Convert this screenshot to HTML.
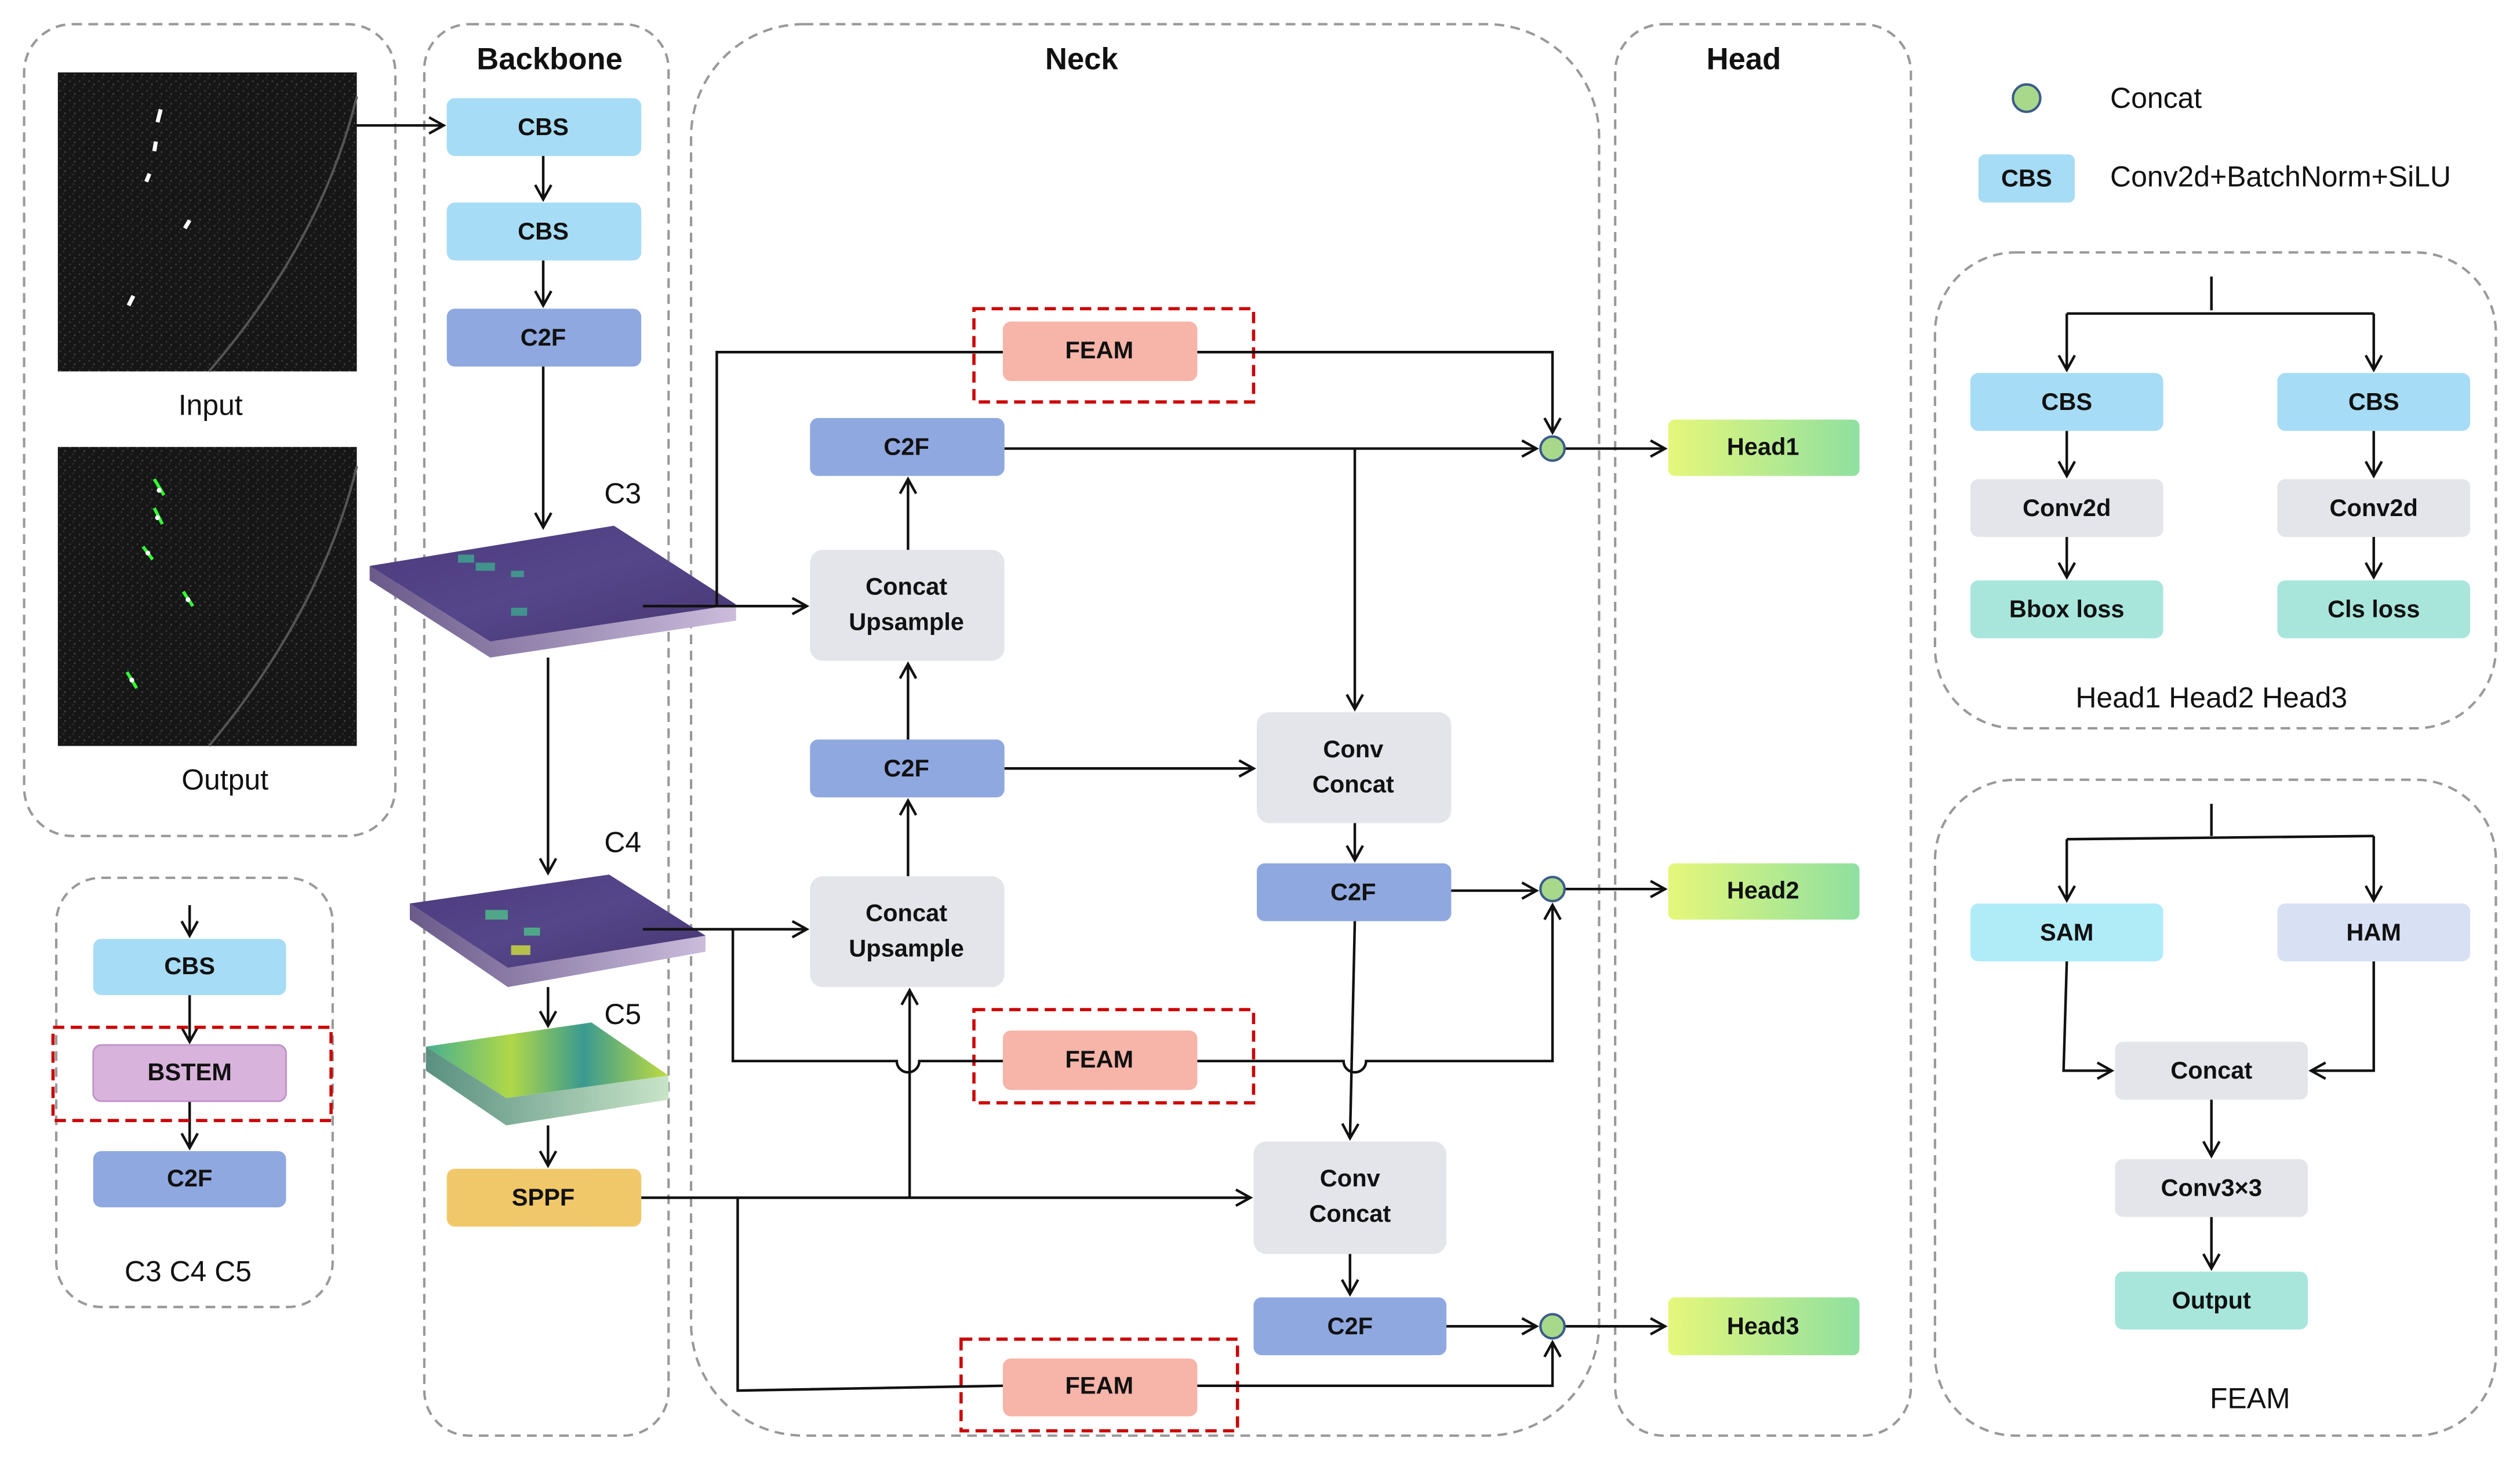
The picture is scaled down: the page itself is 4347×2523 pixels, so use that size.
<!DOCTYPE html>
<html><head><meta charset="utf-8"><style>
html,body{margin:0;padding:0;background:#fff;}
svg{display:block;}
text{font-family:"Liberation Sans",sans-serif;}
.b{font-weight:bold;font-size:15px;text-anchor:middle;dominant-baseline:middle;fill:#111;}
.t{font-weight:bold;font-size:19px;text-anchor:middle;fill:#111;}
.n{font-size:18px;fill:#111;}
.p{fill:none;stroke:#999;stroke-width:1.5;stroke-dasharray:6,4;}
.r{fill:none;stroke:#c00;stroke-width:2;stroke-dasharray:7,4;}
.l{fill:none;stroke:#111;stroke-width:1.6;}
</style></head><body>
<svg width="4347" height="2523" viewBox="0 0 1568 910" xmlns="http://www.w3.org/2000/svg">
<defs>
<marker id="a" markerWidth="12" markerHeight="12" refX="10" refY="6" orient="auto" markerUnits="userSpaceOnUse"><path d="M1,1 L10,6 L1,11" fill="none" stroke="#111" stroke-width="1.6"/></marker>
<linearGradient id="hg" x1="0" x2="1"><stop offset="0" stop-color="#e6f77a"/><stop offset="1" stop-color="#8fe0a0"/></linearGradient>
<linearGradient id="fm" x1="0" y1="0" x2="1" y2="1"><stop offset="0" stop-color="#4c3a7c"/><stop offset="0.5" stop-color="#55468a"/><stop offset="1" stop-color="#463672"/></linearGradient>
<linearGradient id="fs" x1="0" x2="1"><stop offset="0" stop-color="#6a5a8a"/><stop offset="1" stop-color="#cbbcdc"/></linearGradient>
<linearGradient id="fm5" x1="0" y1="0" x2="1" y2="0"><stop offset="0" stop-color="#48b090"/><stop offset="0.35" stop-color="#b0d848"/><stop offset="0.65" stop-color="#3a9a90"/><stop offset="1" stop-color="#c0dc40"/></linearGradient>
<linearGradient id="fs5" x1="0" x2="1"><stop offset="0" stop-color="#5a9080"/><stop offset="1" stop-color="#c8e4c8"/></linearGradient>
<pattern id="nz" width="6" height="6" patternUnits="userSpaceOnUse"><rect width="6" height="6" fill="#161616"/><rect x="1" y="2" width="1" height="1" fill="#3a3a3a"/><rect x="4" y="4" width="1" height="1" fill="#444"/><rect x="3" y="0" width="1" height="1" fill="#2e2e2e"/></pattern>
</defs>
<!-- panels -->
<rect class="p" x="15" y="15" width="231" height="505" rx="30"/>
<rect class="p" x="35" y="546" width="172" height="267" rx="28"/>
<rect class="p" x="264" y="15" width="152" height="878" rx="28"/>
<rect class="p" x="430" y="15" width="565" height="878" rx="70"/>
<rect class="p" x="1005" y="15" width="184" height="878" rx="30"/>
<rect class="p" x="1204" y="157" width="349" height="296" rx="50"/>
<rect class="p" x="1204" y="485" width="349" height="408" rx="50"/>
<text class="t" x="342" y="43">Backbone</text>
<text class="t" x="673" y="43">Neck</text>
<text class="t" x="1085" y="43">Head</text>
<!-- images -->
<rect x="36" y="45" width="186" height="186" fill="url(#nz)"/>
<rect x="36" y="278" width="186" height="186" fill="url(#nz)"/>
<path d="M222,60 Q200,150 130,231 M222,290 Q200,380 130,464" stroke="#555" stroke-width="1.5" fill="none"/>
<g stroke="#fff" stroke-width="2.5"><path d="M100,68 l-2,8 M97,88 l-1,6 M93,108 l-2,5 M118,137 l-3,5 M83,184 l-3,6"/></g>
<g stroke="#3f3" stroke-width="2"><path d="M96,298 l6,10 M96,316 l5,10 M89,340 l6,8 M114,368 l6,9 M79,418 l6,10"/></g>
<g fill="#fff"><circle cx="99" cy="305" r="1.5"/><circle cx="98" cy="322" r="1.5"/><circle cx="92" cy="344" r="1.5"/><circle cx="117" cy="373" r="1.5"/><circle cx="82" cy="423" r="1.5"/></g>
<text class="n" x="131" y="258" text-anchor="middle">Input</text>
<text class="n" x="140" y="491" text-anchor="middle">Output</text>
<!-- backbone boxes -->
<g>
<rect x="278" y="61" width="121" height="36" rx="5" fill="#a6dcf5"/><text class="b" x="338" y="80">CBS</text>
<rect x="278" y="126" width="121" height="36" rx="5" fill="#a6dcf5"/><text class="b" x="338" y="145">CBS</text>
<rect x="278" y="192" width="121" height="36" rx="5" fill="#8fa8e0"/><text class="b" x="338" y="211">C2F</text>
<rect x="278" y="727" width="121" height="36" rx="5" fill="#f0c86a"/><text class="b" x="338" y="746">SPPF</text>
</g>
<!-- feature maps -->
<polygon points="230,352 305,399 458,376 458,386 305,409 230,361" fill="url(#fs)"/>
<polygon points="230,352 382,327 458,376 305,399" fill="url(#fm)"/>
<g fill="#3fa890" opacity="0.8"><rect x="285" y="345" width="10" height="5"/><rect x="296" y="350" width="12" height="5"/><rect x="318" y="355" width="8" height="4"/><rect x="318" y="378" width="10" height="5"/></g>
<polygon points="255,562 316,602 439,582 439,592 316,614 255,572" fill="url(#fs)"/>
<polygon points="255,562 379,544 439,582 316,602" fill="url(#fm)"/>
<g fill="#4fb88a" opacity="0.85"><rect x="302" y="566" width="14" height="6"/><rect x="326" y="577" width="10" height="5"/><rect x="318" y="588" width="12" height="6" fill="#c8d840"/></g>
<polygon points="265,651 315,683 416,669 416,684 315,700 265,666" fill="url(#fs5)"/>
<polygon points="265,651 368,636 416,669 315,683" fill="url(#fm5)"/>
<text class="n" x="376" y="313">C3</text>
<text class="n" x="376" y="530">C4</text>
<text class="n" x="376" y="637">C5</text>
<!-- neck boxes -->
<rect class="r" x="606" y="192" width="174" height="58"/>
<rect x="624" y="200" width="121" height="37" rx="5" fill="#f7b4a8"/><text class="b" x="684" y="219">FEAM</text>
<rect class="r" x="606" y="628" width="174" height="58"/>
<rect x="624" y="641" width="121" height="37" rx="5" fill="#f7b4a8"/><text class="b" x="684" y="660">FEAM</text>
<rect class="r" x="598" y="833" width="172" height="57"/>
<rect x="624" y="845" width="121" height="36" rx="5" fill="#f7b4a8"/><text class="b" x="684" y="863">FEAM</text>
<rect x="504" y="260" width="121" height="36" rx="5" fill="#8fa8e0"/><text class="b" x="564" y="279">C2F</text>
<rect x="504" y="342" width="121" height="69" rx="8" fill="#e3e5ea"/><text class="b" x="564" y="366">Concat</text><text class="b" x="564" y="388">Upsample</text>
<rect x="504" y="460" width="121" height="36" rx="5" fill="#8fa8e0"/><text class="b" x="564" y="479">C2F</text>
<rect x="504" y="545" width="121" height="69" rx="8" fill="#e3e5ea"/><text class="b" x="564" y="569">Concat</text><text class="b" x="564" y="591">Upsample</text>
<rect x="782" y="443" width="121" height="69" rx="8" fill="#e3e5ea"/><text class="b" x="842" y="467">Conv</text><text class="b" x="842" y="489">Concat</text>
<rect x="782" y="537" width="121" height="36" rx="5" fill="#8fa8e0"/><text class="b" x="842" y="556">C2F</text>
<rect x="780" y="710" width="120" height="70" rx="8" fill="#e3e5ea"/><text class="b" x="840" y="734">Conv</text><text class="b" x="840" y="756">Concat</text>
<rect x="780" y="807" width="120" height="36" rx="5" fill="#8fa8e0"/><text class="b" x="840" y="826">C2F</text>
<!-- heads -->
<rect x="1038" y="261" width="119" height="35" rx="4" fill="url(#hg)"/><text class="b" x="1097" y="279">Head1</text>
<rect x="1038" y="537" width="119" height="35" rx="4" fill="url(#hg)"/><text class="b" x="1097" y="555">Head2</text>
<rect x="1038" y="807" width="119" height="36" rx="4" fill="url(#hg)"/><text class="b" x="1097" y="826">Head3</text>
<!-- connectors -->
<g class="l">
<path d="M222,78 H276" marker-end="url(#a)"/>
<path d="M338,97 V124" marker-end="url(#a)"/>
<path d="M338,162 V190" marker-end="url(#a)"/>
<path d="M338,228 V328" marker-end="url(#a)"/>
<path d="M400,377 H502" marker-end="url(#a)"/>
<path d="M446,377 V219 H624"/>
<path d="M745,219 H966 V269" marker-end="url(#a)"/>
<path d="M565,342 V298" marker-end="url(#a)"/>
<path d="M625,279 H956" marker-end="url(#a)"/>
<path d="M843,279 V441" marker-end="url(#a)"/>
<path d="M974,279 H1036" marker-end="url(#a)"/>
<path d="M341,409 V543" marker-end="url(#a)"/>
<path d="M565,460 V413" marker-end="url(#a)"/>
<path d="M565,545 V498" marker-end="url(#a)"/>
<path d="M625,478 H780" marker-end="url(#a)"/>
<path d="M843,512 V535" marker-end="url(#a)"/>
<path d="M903,554 H956" marker-end="url(#a)"/>
<path d="M974,553 H1036" marker-end="url(#a)"/>
<path d="M400,578 H502" marker-end="url(#a)"/>
<path d="M341,614 V638" marker-end="url(#a)"/>
<path d="M341,700 V725" marker-end="url(#a)"/>
<path d="M456,578 V660 H558 a7,7 0 0 0 14,0 H624"/>
<path d="M745,660 H836 a7,7 0 0 0 14,0 H966 V563" marker-end="url(#a)"/>
<path d="M843,573 L840,708" marker-end="url(#a)"/>
<path d="M399,745 H778" marker-end="url(#a)"/>
<path d="M566,745 V616" marker-end="url(#a)"/>
<path d="M459,745 V865 L624,862"/>
<path d="M745,862 H966 V835" marker-end="url(#a)"/>
<path d="M840,780 V805" marker-end="url(#a)"/>
<path d="M900,825 H956" marker-end="url(#a)"/>
<path d="M974,825 H1036" marker-end="url(#a)"/>
</g>
<g fill="#a8d88a" stroke="#3b5c8a" stroke-width="1.5">
<circle cx="966" cy="279" r="7.5"/><circle cx="966" cy="553" r="7.5"/><circle cx="966" cy="825" r="7.5"/>
<circle cx="1261" cy="61" r="8.5"/>
</g>
<!-- legend -->
<text class="n" x="1313" y="67">Concat</text>
<rect x="1231" y="96" width="60" height="30" rx="4" fill="#a6dcf5"/><text class="b" x="1261" y="112">CBS</text>
<text class="n" x="1313" y="116">Conv2d+BatchNorm+SiLU</text>
<!-- head detail -->
<g class="l">
<path d="M1376,172 V193"/><path d="M1286,195 H1477"/>
<path d="M1286,195 V230" marker-end="url(#a)"/><path d="M1477,195 V230" marker-end="url(#a)"/>
<path d="M1286,268 V296" marker-end="url(#a)"/><path d="M1477,268 V296" marker-end="url(#a)"/>
<path d="M1286,334 V359" marker-end="url(#a)"/><path d="M1477,334 V359" marker-end="url(#a)"/>
</g>
<rect x="1226" y="232" width="120" height="36" rx="5" fill="#a6dcf5"/><text class="b" x="1286" y="251">CBS</text>
<rect x="1417" y="232" width="120" height="36" rx="5" fill="#a6dcf5"/><text class="b" x="1477" y="251">CBS</text>
<rect x="1226" y="298" width="120" height="36" rx="5" fill="#e3e5ea"/><text class="b" x="1286" y="317">Conv2d</text>
<rect x="1417" y="298" width="120" height="36" rx="5" fill="#e3e5ea"/><text class="b" x="1477" y="317">Conv2d</text>
<rect x="1226" y="361" width="120" height="36" rx="5" fill="#a8e6dc"/><text class="b" x="1286" y="380">Bbox loss</text>
<rect x="1417" y="361" width="120" height="36" rx="5" fill="#a8e6dc"/><text class="b" x="1477" y="380">Cls loss</text>
<text class="n" x="1376" y="440" text-anchor="middle">Head1 Head2 Head3</text>
<!-- FEAM detail -->
<g class="l">
<path d="M1376,500 V520"/><path d="M1286,522 L1477,520"/>
<path d="M1286,522 V560" marker-end="url(#a)"/><path d="M1477,520 V560" marker-end="url(#a)"/>
<path d="M1286,598 L1284,666 H1314" marker-end="url(#a)"/>
<path d="M1477,598 V666 H1438" marker-end="url(#a)"/>
<path d="M1376,684 V719" marker-end="url(#a)"/>
<path d="M1376,757 V789" marker-end="url(#a)"/>
</g>
<rect x="1226" y="562" width="120" height="36" rx="5" fill="#b0ecf8"/><text class="b" x="1286" y="581">SAM</text>
<rect x="1417" y="562" width="120" height="36" rx="5" fill="#d8e0f3"/><text class="b" x="1477" y="581">HAM</text>
<rect x="1316" y="648" width="120" height="36" rx="5" fill="#e3e5ea"/><text class="b" x="1376" y="667">Concat</text>
<rect x="1316" y="721" width="120" height="36" rx="5" fill="#e3e5ea"/><text class="b" x="1376" y="740">Conv3×3</text>
<rect x="1316" y="791" width="120" height="36" rx="5" fill="#a8e6dc"/><text class="b" x="1376" y="810">Output</text>
<text class="n" x="1400" y="876" text-anchor="middle">FEAM</text>
<!-- BSTEM panel -->
<g class="l">
<path d="M118,563 V582" marker-end="url(#a)"/>
<path d="M118,619 V648" marker-end="url(#a)"/>
<path d="M118,685 V714" marker-end="url(#a)"/>
</g>
<rect x="58" y="584" width="120" height="35" rx="5" fill="#a6dcf5"/><text class="b" x="118" y="602">CBS</text>
<rect class="r" x="33" y="639" width="173" height="58"/>
<rect x="58" y="650" width="120" height="35" rx="5" fill="#d8b4dc" stroke="#c090c8"/><text class="b" x="118" y="668">BSTEM</text>
<rect x="58" y="716" width="120" height="35" rx="5" fill="#8fa8e0"/><text class="b" x="118" y="734">C2F</text>
<text class="n" x="117" y="797" text-anchor="middle">C3 C4 C5</text>
</svg>
</body></html>
